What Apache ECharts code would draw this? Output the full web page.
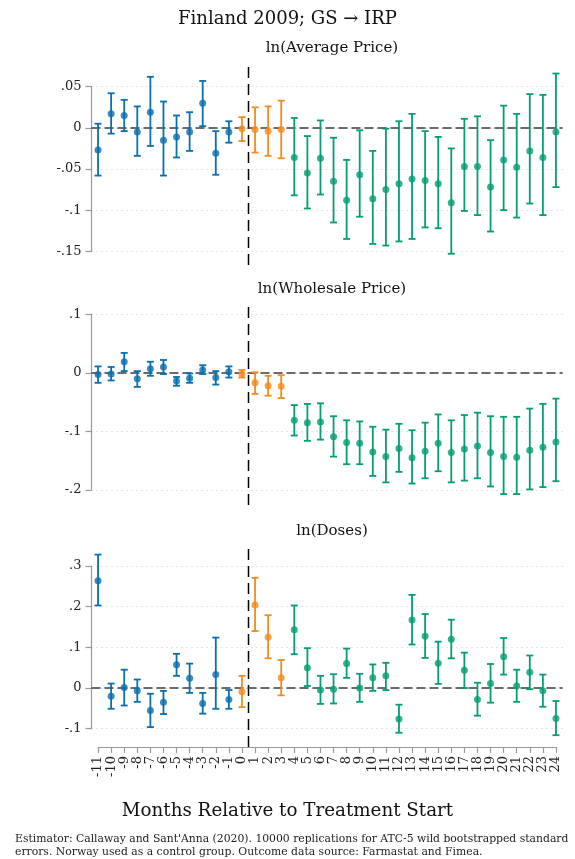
<!DOCTYPE html>
<html>
<head>
<meta charset="utf-8">
<script src="https://cdn.jsdelivr.net/npm/echarts@6/dist/echarts.min.js"></script>
<style>
  html, body { margin: 0; padding: 0; background: #fff; }
  #chart { width: 575px; height: 859px; }
</style>
</head>
<body>
<div id="chart"></div>
<script>
// months relative to treatment start
const months = [-11, -10, -9, -8, -7, -6, -5, -4, -3, -2, -1, 0, 1, 2, 3, 4, 5, 6, 7, 8, 9, 10, 11, 12,
  13, 14, 15, 16, 17, 18, 19, 20, 21, 22, 23, 24];
const treatStart = 0.5;

// ln(Average Price): estimate, lower, upper
const avgEst = [-0.027, 0.017, 0.015, -0.005, 0.019, -0.015, -0.011, -0.005, 0.030, -0.031, -0.005,
  -0.001, -0.002, -0.004, -0.002,
  -0.036, -0.055, -0.037, -0.065, -0.088, -0.057, -0.086, -0.075, -0.068, -0.062, -0.064, -0.068,
  -0.091, -0.047, -0.047, -0.072, -0.039, -0.048, -0.028, -0.036, -0.005];
const avgLo = [-0.058, -0.007, -0.004, -0.034, -0.022, -0.058, -0.036, -0.028, 0.002, -0.057, -0.018,
  -0.016, -0.030, -0.034, -0.037,
  -0.082, -0.098, -0.081, -0.115, -0.135, -0.108, -0.141, -0.143, -0.138, -0.135, -0.121, -0.122,
  -0.153, -0.101, -0.106, -0.126, -0.100, -0.109, -0.092, -0.106, -0.072];
const avgHi = [0.005, 0.042, 0.034, 0.026, 0.062, 0.032, 0.015, 0.019, 0.057, -0.004, 0.008,
  0.013, 0.025, 0.026, 0.033,
  0.012, -0.010, 0.009, -0.012, -0.039, -0.003, -0.028, -0.001, 0.008, 0.017, -0.004, -0.011,
  -0.025, 0.011, 0.014, -0.015, 0.027, 0.017, 0.041, 0.040, 0.066];

// ln(Wholesale Price)
const whEst = [-0.003, -0.002, 0.019, -0.010, 0.007, 0.010, -0.014, -0.009, 0.005, -0.008, 0.002,
  -0.002, -0.017, -0.022, -0.023,
  -0.081, -0.085, -0.084, -0.109, -0.119, -0.120, -0.135, -0.143, -0.129, -0.145, -0.134, -0.120,
  -0.136, -0.130, -0.125, -0.136, -0.143, -0.144, -0.132, -0.127, -0.118];
const whLo = [-0.017, -0.013, 0.003, -0.024, -0.005, -0.002, -0.022, -0.017, -0.002, -0.020, -0.008,
  -0.008, -0.036, -0.039, -0.043,
  -0.107, -0.116, -0.114, -0.143, -0.156, -0.156, -0.176, -0.187, -0.169, -0.189, -0.180, -0.168,
  -0.187, -0.184, -0.180, -0.194, -0.207, -0.207, -0.199, -0.195, -0.185];
const whHi = [0.011, 0.010, 0.034, 0.003, 0.019, 0.022, -0.007, -0.001, 0.013, 0.003, 0.011,
  0.005, 0.001, -0.005, -0.004,
  -0.055, -0.053, -0.052, -0.074, -0.081, -0.083, -0.092, -0.097, -0.087, -0.098, -0.085, -0.071,
  -0.081, -0.072, -0.068, -0.074, -0.075, -0.075, -0.061, -0.053, -0.044];

// ln(Doses)
const dEst = [0.264, -0.020, 0.001, -0.007, -0.055, -0.035, 0.057, 0.024, -0.038, 0.033, -0.028,
  -0.009, 0.204, 0.125, 0.025,
  0.143, 0.050, -0.005, -0.003, 0.060, 0.000, 0.025, 0.030, -0.076, 0.167, 0.127, 0.061,
  0.120, 0.044, -0.028, 0.011, 0.077, 0.005, 0.039, -0.007, -0.075];
const dLo = [0.203, -0.051, -0.043, -0.034, -0.096, -0.064, 0.030, -0.012, -0.063, -0.051, -0.051,
  -0.047, 0.140, 0.073, -0.018,
  0.083, 0.005, -0.039, -0.038, 0.025, -0.034, -0.007, -0.005, -0.110, 0.107, 0.074, 0.010,
  0.073, 0.000, -0.068, -0.036, 0.033, -0.034, -0.003, -0.046, -0.116];
const dHi = [0.328, 0.011, 0.045, 0.021, -0.014, -0.007, 0.084, 0.060, -0.012, 0.124, -0.005,
  0.030, 0.271, 0.179, 0.069,
  0.203, 0.098, 0.030, 0.034, 0.097, 0.035, 0.058, 0.062, -0.041, 0.229, 0.182, 0.114,
  0.168, 0.087, 0.013, 0.059, 0.123, 0.045, 0.080, 0.033, -0.032];

const panelTitles = ['ln(Average Price)', 'ln(Wholesale Price)', 'ln(Doses)'];
const yRanges = [[-0.15, 0.05, 0.05], [-0.2, 0.1, 0.1], [-0.1, 0.3, 0.1]];

const FONT = 'DejaVu Serif';
const BLUE = '#0a6fae', ORANGE = '#f58a1f', GREEN = '#039e74';
const colorFor = (m) => (m < 0 ? BLUE : m <= 3 ? ORANGE : GREEN);

// pixel layout of the three panels (tick range) and plot regions (dashed line span)
const gridsPx = [[86.7, 164.6], [314.3, 175.7], [566, 162.7]];
const regionPx = [[62, 203], [303, 202], [545, 202]];
const LEFT = 91.5, WIDTH = 471;
const XMIN = -11.5, XMAX = 24.5;

const panels = [[avgEst, avgLo, avgHi], [whEst, whLo, whHi], [dEst, dLo, dHi]];

const fmt = (v) => {
  if (Math.abs(v) < 1e-9) return '0';
  return String(+v.toFixed(2)).replace('0.', '.');
};

const grid = [], xAxis = [], yAxis = [], series = [], title = [];

title.push({
  text: 'Finland 2009; GS \u2192 IRP', left: 'center', top: 5,
  textStyle: { fontFamily: FONT, fontSize: 18, fontWeight: 'normal', color: '#111' }
});

panels.forEach(([est, lo, hi], i) => {
  const [top, h] = gridsPx[i];
  const [ymin, ymax, step] = yRanges[i];
  // main grid
  grid.push({ left: LEFT, top: top, width: WIDTH, height: h });
  xAxis.push({
    gridIndex: grid.length - 1, type: 'value', min: XMIN, max: XMAX, show: false
  });
  yAxis.push({
    gridIndex: grid.length - 1, type: 'value', min: ymin, max: ymax, interval: step,
    axisLine: { show: true, onZero: false, lineStyle: { color: '#9a9a9a', width: 1.2 } },
    axisTick: { show: true, length: 6, lineStyle: { color: '#9a9a9a', width: 1.2 } },
    axisLabel: { formatter: fmt, fontFamily: FONT, fontSize: 13, color: '#222', margin: 10 },
    splitLine: { show: true, lineStyle: { color: '#c8c8c8', type: [1, 4], width: 1 } }
  });
  const gi = grid.length - 1;

  series.push({
    type: 'custom', xAxisIndex: gi, yAxisIndex: gi, clip: false, z: 3,
    data: months.map((m, k) => [m, lo[k], hi[k]]),
    renderItem: (params, api) => {
      const m = api.value(0);
      const pLo = api.coord([m, api.value(1)]);
      const pHi = api.coord([m, api.value(2)]);
      const c = colorFor(m);
      const w = 3.5;
      const st = { stroke: c, lineWidth: 1.8 };
      return {
        type: 'group',
        children: [
          { type: 'line', shape: { x1: pLo[0], y1: pLo[1], x2: pHi[0], y2: pHi[1] }, style: st },
          { type: 'line', shape: { x1: pLo[0] - w, y1: pLo[1], x2: pLo[0] + w, y2: pLo[1] }, style: st },
          { type: 'line', shape: { x1: pHi[0] - w, y1: pHi[1], x2: pHi[0] + w, y2: pHi[1] }, style: st }
        ]
      };
    }
  });

  series.push({
    type: 'scatter', xAxisIndex: gi, yAxisIndex: gi, symbol: 'circle', symbolSize: 7, z: 4,
    clip: false,
    data: months.map((m, k) => ({ value: [m, est[k]], itemStyle: { color: colorFor(m) } })),
    markLine: {
      silent: true, symbol: 'none', z: 2,
      label: { show: false },
      lineStyle: { color: '#3c3c3c', type: [9, 4], width: 1.7 },
      data: [{ yAxis: 0 }]
    }
  });

  // overlay grid for the treatment-start line spanning the plot region
  const [rt, rh] = regionPx[i];
  grid.push({ left: LEFT, top: rt, width: WIDTH, height: rh });
  xAxis.push({ gridIndex: grid.length - 1, type: 'value', min: XMIN, max: XMAX, show: false });
  yAxis.push({ gridIndex: grid.length - 1, type: 'value', min: 0, max: 1, show: false });
  series.push({
    type: 'line', xAxisIndex: grid.length - 1, yAxisIndex: grid.length - 1,
    symbol: 'none', silent: true, z: 1,
    lineStyle: { color: '#000', width: 1.5, type: [11, 6] },
    data: [[treatStart, 0], [treatStart, 1]]
  });

  title.push({
    text: panelTitles[i], left: LEFT + WIDTH / 2, textAlign: 'center', top: rt - 26,
    textStyle: { fontFamily: FONT, fontSize: 15, fontWeight: 'normal', color: '#111' }
  });
});

// x axis drawn under the bottom panel, spanning the first to the last month
grid.push({ left: LEFT + (months[0] - XMIN) * WIDTH / (XMAX - XMIN),
  width: (months[months.length - 1] - months[0]) * WIDTH / (XMAX - XMIN),
  top: gridsPx[2][0], height: gridsPx[2][1] });
xAxis.push({
  gridIndex: grid.length - 1, type: 'value', position: 'bottom', offset: 18.3,
  min: months[0], max: months[months.length - 1], interval: 1,
  axisLine: { show: true, onZero: false, lineStyle: { color: '#9a9a9a', width: 1.2 } },
  axisTick: { show: true, length: 6, lineStyle: { color: '#9a9a9a', width: 1.2 } },
  axisLabel: { rotate: 90, fontFamily: FONT, fontSize: 13, color: '#222', margin: 9 },
  splitLine: { show: false }
});
yAxis.push({ gridIndex: grid.length - 1, type: 'value', show: false, min: 0, max: 1 });

title.push({
  text: 'Months Relative to Treatment Start', left: 'center', top: 797,
  textStyle: { fontFamily: FONT, fontSize: 18.3, fontWeight: 'normal', color: '#111' }
});
title.push({
  text: "Estimator: Callaway and Sant'Anna (2020). 10000 replications for ATC-5 wild bootstrapped standard\nerrors. Norway used as a control group. Outcome data source: Farmastat and Fimea.",
  left: 10, top: 828,
  textStyle: { fontFamily: FONT, fontSize: 10.8, fontWeight: 'normal', color: '#222', lineHeight: 13 }
});

const chart = echarts.init(document.getElementById('chart'), null, { renderer: 'canvas' });
chart.setOption({
  backgroundColor: '#fff',
  animation: false,
  title: title,
  grid: grid,
  xAxis: xAxis,
  yAxis: yAxis,
  series: series
});
</script>
</body>
</html>
